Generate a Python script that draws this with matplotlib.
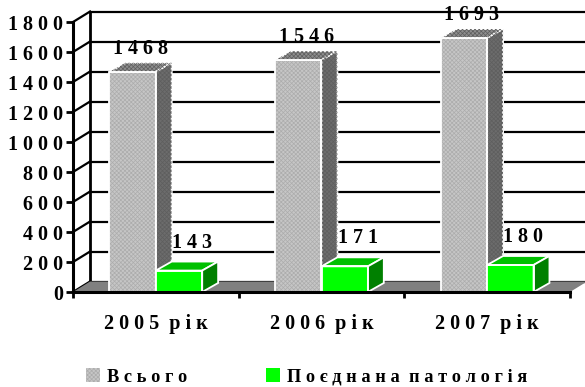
import matplotlib.pyplot as plt
from matplotlib.patches import Patch

# data
years = ["2005 рік", "2006 рік", "2007 рік"]
total = [1468, 1546, 1693]
combined = [143, 171, 180]
series_names = ["Всього", "Поєднана патологія"]
y_ticks = [0, 200, 400, 600, 800, 1000, 1200, 1400, 1600, 1800]

plt.rcParams['font.family'] = ['Liberation Serif', 'DejaVu Serif']
plt.rcParams['font.weight'] = 'bold'
plt.rcParams['hatch.linewidth'] = 0.5
FS = 14.5

BAR_W = 0.28
DEPTH_X, DEPTH_Y = 0.103, 70      # wall / floor depth in data units
BAR_DX, BAR_DY = 0.096, 60        # bar depth

GRAY = dict(front='#c6c6c6', top='#8e8e8e', side='#6c6c6c', hatch='#acacac')
GREEN = dict(front='#00ff00', top='#00c000', side='#008000', hatch=None)
HATCH = 'xxxxxxxx'


def spaced(s):
    # wide letter spacing
    return '  '.join(' '.join(w) for w in s.split(' '))


def bar3d(ax, x0, h, c, z):
    hatch = HATCH if c['hatch'] else None
    ax.bar(x0, h, BAR_W, align='edge', color=c['front'], edgecolor=c['hatch'] or c['front'],
           hatch=hatch, linewidth=0, zorder=z)
    ax.bar(x0, h, BAR_W, align='edge', fill=False, edgecolor='white', linewidth=1.3, zorder=z + 0.1)
    x1 = x0 + BAR_W
    top = ax.fill([x0, x1, x1 + BAR_DX, x0 + BAR_DX], [h, h, h + BAR_DY, h + BAR_DY],
                  facecolor=c['top'], edgecolor='white', linewidth=1.3, zorder=z, clip_on=False)[0]
    side = ax.fill([x1, x1 + BAR_DX, x1 + BAR_DX, x1], [0, BAR_DY, h + BAR_DY, h],
                   facecolor=c['side'], edgecolor='white', linewidth=1.3, zorder=z, clip_on=False)[0]
    if hatch:
        for p in (top, side):
            ax.fill(p.get_xy()[:, 0], p.get_xy()[:, 1], facecolor='none', edgecolor='#5e5e5e',
                    hatch=HATCH, linewidth=0, zorder=z + 0.05, clip_on=False)
    return x1


fig = plt.figure(figsize=(5.85, 3.87), dpi=100)
ax = fig.add_axes([73 / 585, 95 / 387, 497 / 585, 270 / 387])
ax.set_xlim(-0.5, 2.5)
ax.set_ylim(0, 1800)

left, right = -0.5, 2.5
bx, by = left + DEPTH_X, DEPTH_Y

# back wall gridlines and left wall lines
for v in y_ticks:
    ax.plot([bx, right + DEPTH_X], [v + by, v + by], color='black', lw=1.6, zorder=1, clip_on=False)
    ax.plot([left, bx], [v, v + by], color='black', lw=1.6, zorder=1, clip_on=False)
ax.plot([bx, bx], [by, 1800 + by], color='black', lw=2, zorder=1, clip_on=False)
ax.plot([left, left], [0, 1800], color='black', lw=2.2, zorder=6, clip_on=False)

# floor
ax.fill([left, right, right + DEPTH_X, bx], [0, 0, by, by], facecolor='#808080',
        edgecolor='none', zorder=2, clip_on=False)

for i, (t, c) in enumerate(zip(total, combined)):
    x0 = i - BAR_W
    bar3d(ax, x0, t, GRAY, 3)
    bar3d(ax, i, c, GREEN, 4)
    ax.text(x0 + (BAR_W + BAR_DX) / 2, t + BAR_DY + 25, spaced(str(t)), ha='center', va='bottom',
            fontsize=FS, fontweight='bold', zorder=7)
    ax.text(i + (BAR_W + BAR_DX) / 2 + 0.03, c + BAR_DY + 60, spaced(str(c)), ha='center', va='bottom',
            fontsize=FS, fontweight='bold', zorder=7)

for s in ax.spines.values():
    s.set_visible(False)
ax.plot([left, right], [0, 0], color='black', lw=2.2, zorder=6, clip_on=False)

ax.set_yticks(y_ticks)
ax.set_yticklabels([spaced(str(v)) for v in y_ticks], fontsize=FS, fontweight='bold')
ax.tick_params(axis='y', length=5, width=2, pad=2)
ax.set_xticks([-0.5, 0.5, 1.5, 2.5])
ax.set_xticklabels([])
ax.tick_params(axis='x', which='major', length=4, width=2)
ax.set_xticks([0, 1, 2], minor=True)
ax.set_xticklabels([spaced(y) for y in years], minor=True, fontsize=FS, fontweight='bold')
ax.tick_params(axis='x', which='minor', length=0, pad=16)

handles = [Patch(facecolor=GRAY['front'], edgecolor=GRAY['hatch'], hatch=HATCH, linewidth=0),
           Patch(facecolor=GREEN['front'], linewidth=0)]
fig.legend(handles, [spaced(n) for n in series_names], loc='center', bbox_to_anchor=(307 / 585, 1 - 377 / 387),
           ncol=2, frameon=False, prop={'size': 13.2, 'weight': 'bold'}, handlelength=0.75, handleheight=0.75,
           handletextpad=0.4, columnspacing=4.3)

fig.savefig('out.png', dpi=100)
